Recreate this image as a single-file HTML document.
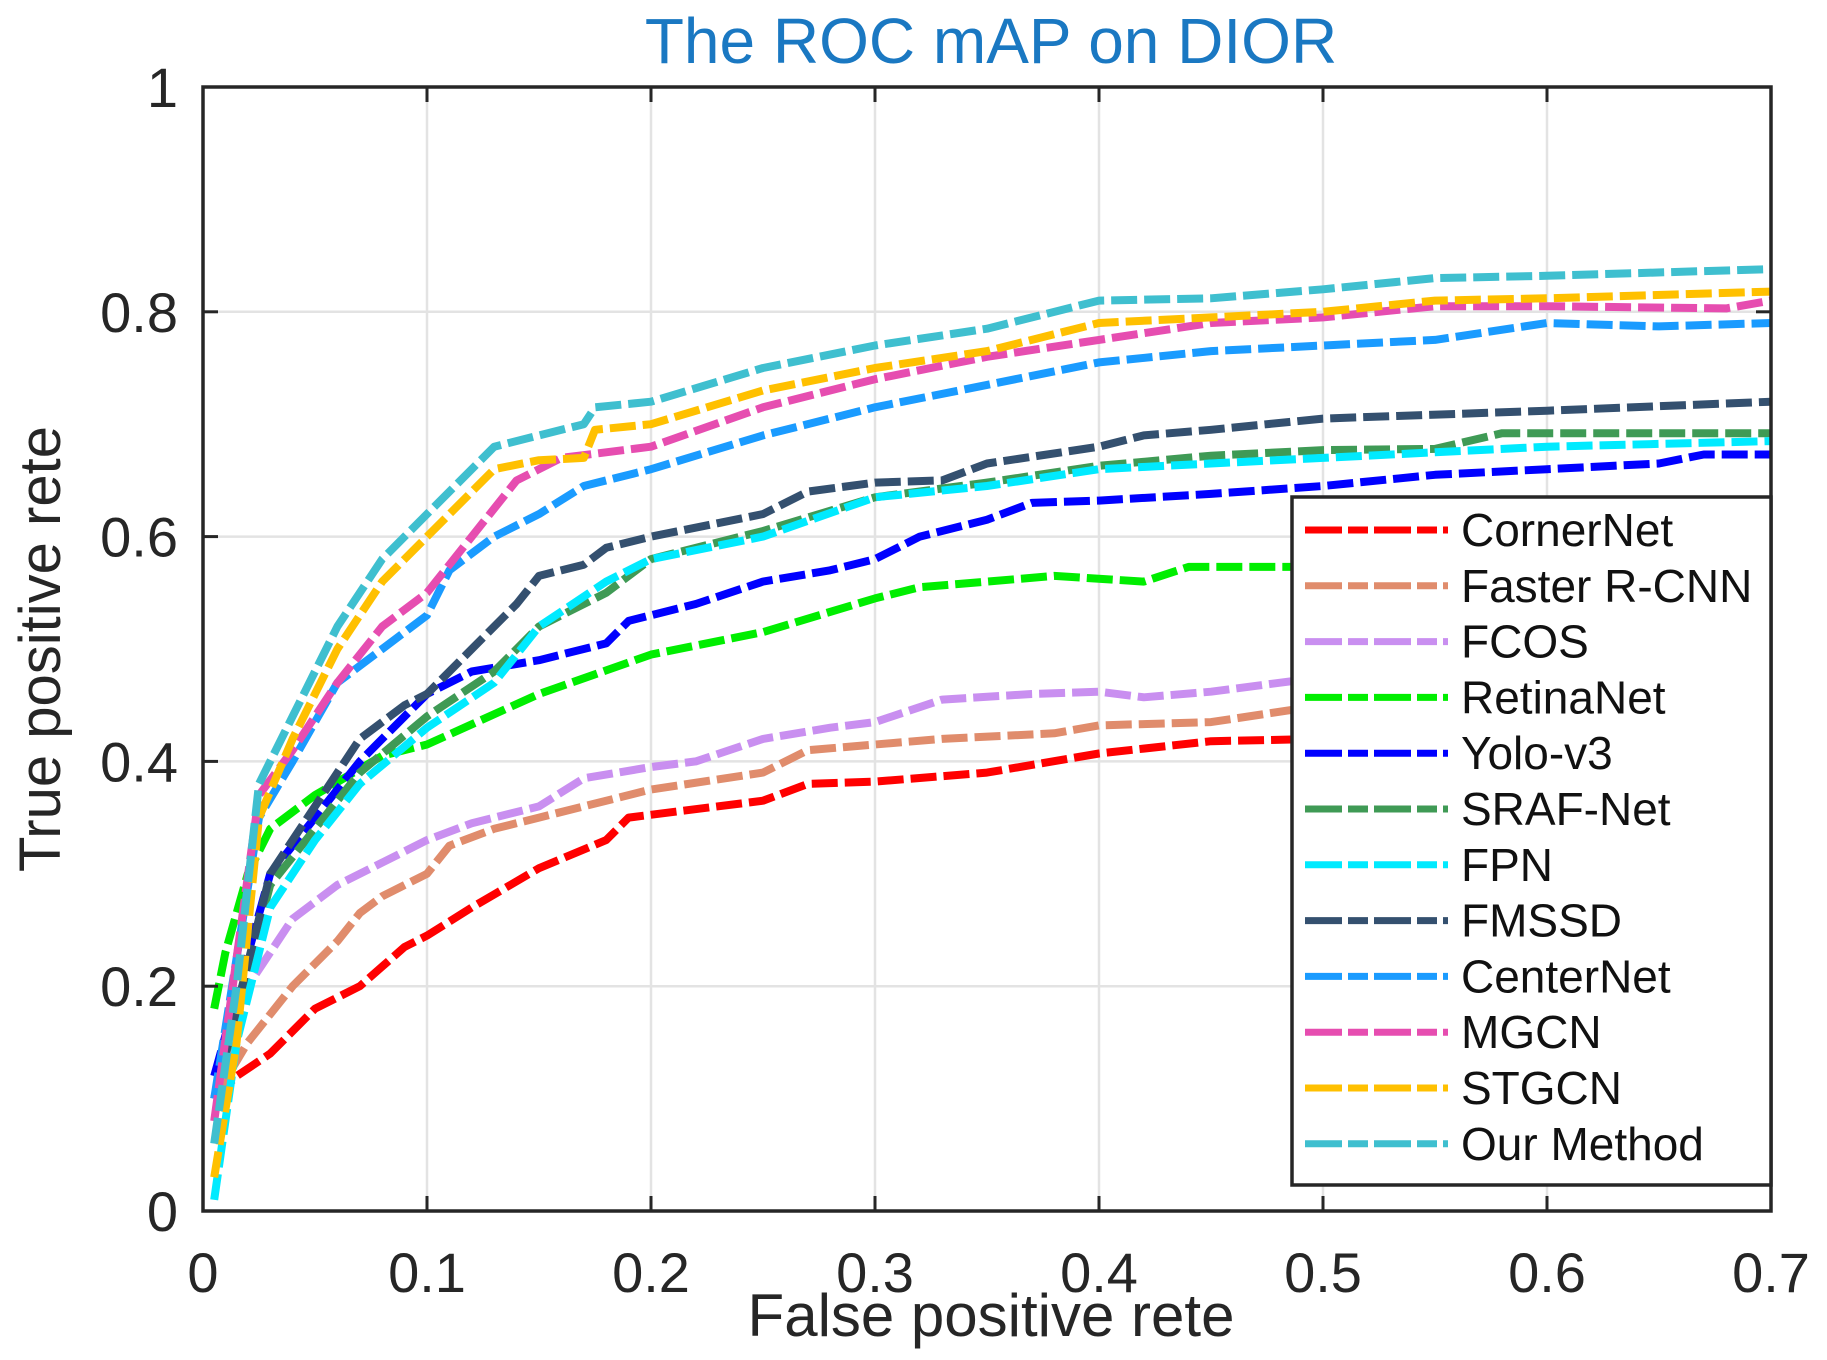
<!DOCTYPE html>
<html><head><meta charset="utf-8"><style>
html,body{margin:0;padding:0;background:#fff;}
svg{display:block;}
text{font-family:"Liberation Sans",Arial,sans-serif;}
</style></head><body>
<svg id="s" width="1827" height="1360" viewBox="0 0 1827 1360" xmlns="http://www.w3.org/2000/svg">
<rect width="1827" height="1360" fill="#fff"/>
<g id="grid" stroke="#e3e3e3" stroke-width="2.5"></g>
<g id="curves" fill="none" stroke-width="8" stroke-dasharray="26 7" stroke-linejoin="round"></g>
<rect x="203" y="87" width="1568" height="1124" fill="none" stroke="#262626" stroke-width="3.5"/>
<g id="ticks" stroke="#262626" stroke-width="3"></g>
<g id="labels" font-size="56" fill="#262626"></g>
<text x="991" y="63" font-size="64" fill="#1a78c2" text-anchor="middle">The ROC mAP on DIOR</text>
<text x="991" y="1336" font-size="60" fill="#262626" text-anchor="middle">False positive rete</text>
<text transform="translate(60,649) rotate(-90)" font-size="58" fill="#262626" text-anchor="middle">True positive rete</text>
<rect x="1292" y="497" width="479" height="688" fill="#fff" stroke="#262626" stroke-width="3.5"/>
<g id="legend" font-size="46" fill="#111"></g>
</svg>
<script>
var L=203,R=1771,T=87,B=1211;
function X(v){return L+v/0.7*(R-L);} function Y(v){return B-v*(B-T);}
var ns="http://www.w3.org/2000/svg";
function el(t,a,p,txt){var e=document.createElementNS(ns,t);for(var k in a)e.setAttribute(k,a[k]);if(txt!=null)e.textContent=txt;document.getElementById(p).appendChild(e);return e;}
for(var i=1;i<7;i++){var x=X(i/10);el('line',{x1:x,y1:T,x2:x,y2:B},'grid');el('line',{x1:x,y1:B,x2:x,y2:B-15},'ticks');el('line',{x1:x,y1:T,x2:x,y2:T+15},'ticks');}
for(var i=1;i<5;i++){var y=Y(i/5);el('line',{x1:L,y1:y,x2:R,y2:y},'grid');el('line',{x1:L,y1:y,x2:L+15,y2:y},'ticks');el('line',{x1:R,y1:y,x2:R-15,y2:y},'ticks');}
var xl=['0','0.1','0.2','0.3','0.4','0.5','0.6','0.7'];
for(var i=0;i<8;i++)el('text',{x:X(i/10),y:1292,'text-anchor':'middle'},'labels',xl[i]);
var yl=['0','0.2','0.4','0.6','0.8','1'];
for(var i=0;i<6;i++)el('text',{x:178,y:Y(i/5)+20,'text-anchor':'end'},'labels',yl[i]);
var S=[
['CornerNet','#ff0000',[[0.005,0.1],[0.015,0.12],[0.03,0.14],[0.05,0.18],[0.07,0.2],[0.09,0.235],[0.1,0.245],[0.12,0.27],[0.15,0.305],[0.18,0.33],[0.19,0.35],[0.25,0.365],[0.27,0.38],[0.3,0.382],[0.35,0.39],[0.4,0.407],[0.45,0.418],[0.5,0.42],[0.7,0.43]]],
['Faster R-CNN','#e08c6c',[[0.005,0.1],[0.02,0.15],[0.04,0.2],[0.06,0.24],[0.07,0.265],[0.08,0.28],[0.1,0.3],[0.11,0.325],[0.13,0.34],[0.15,0.35],[0.2,0.375],[0.25,0.39],[0.27,0.41],[0.3,0.415],[0.33,0.42],[0.38,0.425],[0.4,0.432],[0.45,0.435],[0.5,0.45],[0.7,0.47]]],
['FCOS','#c98ff0',[[0.005,0.1],[0.02,0.2],[0.04,0.26],[0.06,0.29],[0.08,0.31],[0.1,0.33],[0.12,0.345],[0.15,0.36],[0.17,0.385],[0.2,0.395],[0.22,0.4],[0.25,0.42],[0.28,0.43],[0.3,0.435],[0.33,0.455],[0.37,0.46],[0.4,0.462],[0.42,0.457],[0.45,0.462],[0.5,0.475],[0.7,0.5]]],
['RetinaNet','#00ee00',[[0.005,0.18],[0.01,0.23],[0.02,0.3],[0.03,0.34],[0.05,0.37],[0.08,0.405],[0.1,0.415],[0.15,0.46],[0.2,0.495],[0.25,0.515],[0.3,0.545],[0.32,0.555],[0.35,0.56],[0.38,0.565],[0.42,0.56],[0.44,0.573],[0.49,0.573],[0.7,0.58]]],
['Yolo-v3','#0000ff',[[0.005,0.12],[0.03,0.3],[0.05,0.35],[0.07,0.4],[0.09,0.44],[0.1,0.46],[0.12,0.48],[0.15,0.49],[0.18,0.505],[0.19,0.525],[0.22,0.54],[0.25,0.56],[0.28,0.57],[0.3,0.58],[0.32,0.6],[0.35,0.615],[0.37,0.63],[0.4,0.632],[0.45,0.638],[0.5,0.645],[0.55,0.655],[0.6,0.66],[0.65,0.665],[0.67,0.673],[0.7,0.673]]],
['SRAF-Net','#3f9a55',[[0.005,0.1],[0.03,0.29],[0.05,0.34],[0.07,0.39],[0.1,0.44],[0.13,0.48],[0.15,0.52],[0.18,0.55],[0.2,0.58],[0.25,0.605],[0.3,0.635],[0.35,0.648],[0.4,0.663],[0.45,0.672],[0.5,0.677],[0.55,0.678],[0.58,0.692],[0.7,0.692]]],
['FPN','#00eaff',[[0.005,0.01],[0.015,0.15],[0.03,0.27],[0.05,0.33],[0.07,0.38],[0.1,0.43],[0.13,0.47],[0.15,0.52],[0.18,0.56],[0.2,0.58],[0.25,0.6],[0.3,0.635],[0.35,0.645],[0.4,0.66],[0.45,0.665],[0.5,0.67],[0.55,0.675],[0.6,0.68],[0.7,0.685]]],
['FMSSD','#34506f',[[0.005,0.1],[0.02,0.22],[0.03,0.3],[0.05,0.36],[0.07,0.42],[0.09,0.45],[0.1,0.46],[0.12,0.5],[0.14,0.54],[0.15,0.565],[0.17,0.575],[0.18,0.59],[0.2,0.6],[0.25,0.62],[0.27,0.64],[0.3,0.648],[0.33,0.65],[0.35,0.665],[0.4,0.68],[0.42,0.69],[0.45,0.695],[0.5,0.705],[0.6,0.712],[0.7,0.72]]],
['CenterNet','#1a9bff',[[0.005,0.1],[0.025,0.35],[0.04,0.4],[0.06,0.47],[0.08,0.5],[0.1,0.53],[0.11,0.57],[0.13,0.6],[0.15,0.62],[0.17,0.645],[0.2,0.66],[0.25,0.69],[0.3,0.715],[0.35,0.735],[0.4,0.755],[0.45,0.765],[0.5,0.77],[0.55,0.775],[0.6,0.79],[0.65,0.787],[0.7,0.79]]],
['MGCN','#e64db0',[[0.005,0.08],[0.025,0.37],[0.04,0.41],[0.06,0.47],[0.08,0.52],[0.1,0.55],[0.12,0.6],[0.14,0.65],[0.16,0.67],[0.2,0.68],[0.25,0.715],[0.3,0.74],[0.35,0.76],[0.4,0.775],[0.45,0.79],[0.5,0.795],[0.55,0.805],[0.6,0.805],[0.68,0.803],[0.7,0.81]]],
['STGCN','#ffc000',[[0.005,0.03],[0.015,0.15],[0.025,0.35],[0.04,0.42],[0.06,0.5],[0.08,0.56],[0.1,0.6],[0.13,0.66],[0.15,0.668],[0.17,0.67],[0.175,0.695],[0.2,0.7],[0.25,0.73],[0.3,0.75],[0.35,0.765],[0.4,0.79],[0.45,0.795],[0.5,0.8],[0.55,0.81],[0.6,0.812],[0.7,0.818]]],
['Our Method','#3fbfcf',[[0.005,0.06],[0.015,0.2],[0.025,0.38],[0.04,0.44],[0.06,0.52],[0.08,0.58],[0.1,0.62],[0.13,0.68],[0.15,0.69],[0.17,0.7],[0.175,0.715],[0.2,0.72],[0.25,0.75],[0.3,0.77],[0.35,0.785],[0.4,0.81],[0.45,0.812],[0.5,0.82],[0.55,0.83],[0.6,0.832],[0.7,0.838]]]
];
S.forEach(function(s,i){
 var pts=s[2].map(function(p){return X(p[0]).toFixed(1)+','+Y(p[1]).toFixed(1);}).join(' ');
 el('polyline',{points:pts,stroke:s[1]},'curves');
 var y=530+i*55.8;
 el('line',{x1:1305,y1:y,x2:1448,y2:y,stroke:s[1],'stroke-width':7,'stroke-dasharray':'37 6 20 6'},'legend');
 el('text',{x:1461,y:y+16},'legend',s[0]);
});
</script>
</body></html>
